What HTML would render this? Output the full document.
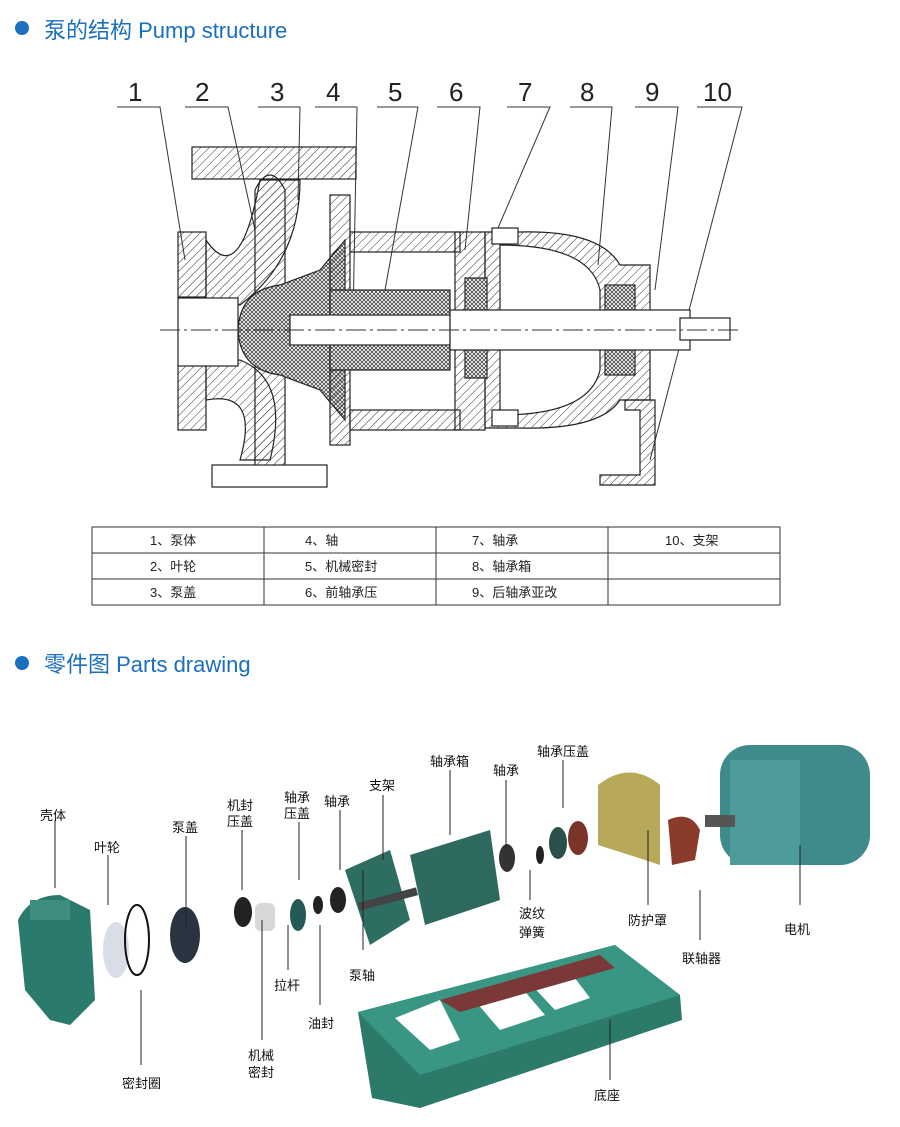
<!DOCTYPE html>
<html><head><meta charset="utf-8"><style>
html,body{margin:0;padding:0;background:#fff;}
svg{display:block}
text{font-family:"Liberation Sans","Noto Sans CJK SC",sans-serif}
.t{font-size:13px;fill:#222}
.lab{font-size:13px;fill:#111}
</style></head><body>
<svg width="900" height="1127" viewBox="0 0 900 1127" xmlns="http://www.w3.org/2000/svg">
<defs>
<pattern id="h" width="6" height="6" patternUnits="userSpaceOnUse" patternTransform="rotate(45)"><line x1="0" y1="0" x2="0" y2="6" stroke="#333" stroke-width="1"/></pattern>
<pattern id="x" width="4" height="4" patternUnits="userSpaceOnUse"><rect width="4" height="4" fill="#fff"/><path d="M0 0L4 4M4 0L0 4" stroke="#444" stroke-width="0.8"/></pattern>
</defs>
<circle cx="22" cy="28" r="7" fill="#1a6fc0"/>
<text x="44" y="38" font-size="22" fill="#1a6fc0">泵的结构 Pump structure</text>
<g font-size="26" fill="#222" font-family="DejaVu Sans" font-weight="200">
<text x="128" y="101" transform="scale(1 1)">1</text><text x="195" y="101">2</text><text x="270" y="101">3</text><text x="326" y="101">4</text><text x="388" y="101">5</text><text x="449" y="101">6</text><text x="518" y="101">7</text><text x="580" y="101">8</text><text x="645" y="101">9</text><text x="703" y="101">10</text>
</g>
<g stroke="#333" stroke-width="1" fill="none">
<path d="M117 107H160L185 260"/><path d="M185 107H228L255 230"/><path d="M258 107H300L298 200"/><path d="M315 107H357L353 320"/><path d="M377 107H418L385 290"/><path d="M437 107H480L465 250"/><path d="M507 107H550L495 235"/><path d="M570 107H612L598 265"/><path d="M635 107H678L655 290"/><path d="M697 107H742L650 460"/>
</g>
<g stroke="#222" stroke-width="1.2">
<rect x="192" y="147" width="164" height="32" fill="url(#h)"/>
<rect x="178" y="232" width="28" height="65" fill="url(#h)"/>
<rect x="178" y="365" width="28" height="65" fill="url(#h)"/>
<path d="M206 240Q240 290 260 180L300 180Q300 260 240 305L206 300Z" fill="url(#h)"/>
<path d="M206 365L240 360Q290 380 270 460L240 460Q260 390 206 400Z" fill="url(#h)"/>
<rect x="178" y="298" width="60" height="68" fill="#fff"/>
<path d="M255 190Q270 160 285 190L285 470L255 470Z" fill="url(#h)"/>
<path d="M238 330Q240 290 280 285L320 270L345 240L345 420L320 390L280 375Q240 370 238 330Z" fill="url(#x)"/>
<rect x="330" y="195" width="20" height="250" fill="url(#h)"/>
<rect x="350" y="232" width="110" height="20" fill="url(#h)"/>
<rect x="350" y="410" width="110" height="20" fill="url(#h)"/>
<rect x="455" y="232" width="30" height="198" fill="url(#h)"/>
<path d="M485 232H520Q600 230 620 265L650 265L650 400L620 400Q600 430 520 428H485Z" fill="url(#h)"/>
<path d="M500 245Q590 245 600 290L600 370Q590 415 500 415Z" fill="#fff"/>
<rect x="330" y="290" width="120" height="80" fill="url(#x)"/>
<rect x="465" y="278" width="22" height="100" fill="url(#x)"/>
<rect x="605" y="285" width="30" height="90" fill="url(#x)"/>
<rect x="290" y="315" width="160" height="30" fill="#fff"/>
<rect x="450" y="310" width="240" height="40" fill="#fff"/>
<rect x="680" y="318" width="50" height="22" fill="#fff"/>
<path d="M625 400H655L655 485H600V475H640V410H625Z" fill="url(#h)"/>
<rect x="212" y="465" width="115" height="22" fill="#fff"/>
<rect x="492" y="228" width="26" height="16" fill="#fff"/><rect x="492" y="410" width="26" height="16" fill="#fff"/>
</g>
<line x1="160" y1="330" x2="740" y2="330" stroke="#333" stroke-dasharray="20 4 3 4"/>
<g stroke="#333" stroke-width="1" fill="none">
<rect x="92" y="527" width="688" height="78"/>
<line x1="92" y1="553" x2="780" y2="553"/><line x1="92" y1="579" x2="780" y2="579"/>
<line x1="264" y1="527" x2="264" y2="605"/><line x1="436" y1="527" x2="436" y2="605"/><line x1="608" y1="527" x2="608" y2="605"/>
</g>
<g class="t">
<text x="150" y="545">1、泵体</text><text x="150" y="571">2、叶轮</text><text x="150" y="597">3、泵盖</text>
<text x="305" y="545">4、轴</text><text x="305" y="571">5、机械密封</text><text x="305" y="597">6、前轴承压</text>
<text x="472" y="545">7、轴承</text><text x="472" y="571">8、轴承箱</text><text x="472" y="597">9、后轴承亚改</text>
<text x="665" y="545">10、支架</text>
</g>
<circle cx="22" cy="663" r="7" fill="#1a6fc0"/>
<text x="44" y="672" font-size="22" fill="#1a6fc0">零件图 Parts drawing</text>
<g>
<path d="M358 1012L615 945L680 995L682 1020L420 1108L372 1098Z" fill="#2c7a6a"/>
<path d="M358 1012L615 945L680 995L420 1075Z" fill="#3a9684"/>
<path d="M395 1018L430 1050L460 1040L440 1000Z" fill="#fff"/>
<path d="M470 995L500 1030L545 1015L515 980Z" fill="#fff"/>
<path d="M525 978L555 1010L590 998L565 965Z" fill="#fff"/>
<path d="M440 1000L600 955L615 968L460 1012Z" fill="#7a3838"/>
<rect x="720" y="745" width="150" height="120" rx="30" fill="#3f8a8a"/>
<rect x="730" y="760" width="70" height="105" fill="#4d9b9b"/>
<rect x="705" y="815" width="30" height="12" fill="#555"/>
<path d="M598 785Q630 760 660 785L660 865L645 860L598 845Z" fill="#b8a85a"/>
<path d="M668 820Q690 810 700 830L695 860L672 865Z" fill="#8a3b2a"/>
<path d="M410 855L490 830L500 900L425 925Z" fill="#2f6a60"/>
<path d="M345 870L390 850L410 920L370 945Z" fill="#2e6e62"/>
<rect x="358" y="895" width="60" height="8" fill="#444" transform="rotate(-15 388 899)"/>
<ellipse cx="185" cy="935" rx="15" ry="28" fill="#2a3440"/>
<ellipse cx="116" cy="950" rx="13" ry="28" fill="#d8dde8"/>
<ellipse cx="137" cy="940" rx="12" ry="35" fill="none" stroke="#111" stroke-width="2"/>
<path d="M18 920Q30 895 60 895L90 910L95 1000L70 1025L50 1020L25 990Z" fill="#2b7a6e"/>
<rect x="30" y="900" width="40" height="20" fill="#3d8d80"/>
<ellipse cx="243" cy="912" rx="9" ry="15" fill="#222"/>
<rect x="255" y="903" width="20" height="28" rx="6" fill="#d8d8d8"/>
<ellipse cx="298" cy="915" rx="8" ry="16" fill="#245a55"/>
<ellipse cx="318" cy="905" rx="5" ry="9" fill="#222"/>
<ellipse cx="338" cy="900" rx="8" ry="13" fill="#222"/>
<ellipse cx="507" cy="858" rx="8" ry="14" fill="#333"/>
<ellipse cx="540" cy="855" rx="4" ry="9" fill="#222"/>
<ellipse cx="558" cy="843" rx="9" ry="16" fill="#2b4f4b"/>
<ellipse cx="578" cy="838" rx="10" ry="17" fill="#7a3428"/>
</g>
<g stroke="#222" stroke-width="1" fill="none">
<path d="M55 820V888"/><path d="M108 855V905"/><path d="M186 836V928"/><path d="M242 830V890"/><path d="M299 822V880"/><path d="M340 810V870"/><path d="M383 795V860"/><path d="M450 770V835"/><path d="M506 780V850"/><path d="M563 760V808"/><path d="M648 830V905"/><path d="M800 845V905"/><path d="M700 890V940"/><path d="M530 870V900"/><path d="M363 870V950"/><path d="M288 925V970"/><path d="M320 925V1005"/><path d="M262 920V1040"/><path d="M141 990V1065"/><path d="M610 1020V1080"/>
</g>
<g class="lab">
<text x="40" y="820">壳体</text><text x="94" y="852">叶轮</text><text x="172" y="832">泵盖</text>
<text x="227" y="810">机封</text><text x="227" y="826">压盖</text>
<text x="284" y="802">轴承</text><text x="284" y="818">压盖</text>
<text x="324" y="806">轴承</text><text x="369" y="790">支架</text><text x="430" y="766">轴承箱</text>
<text x="493" y="775">轴承</text><text x="537" y="756">轴承压盖</text>
<text x="628" y="925">防护罩</text><text x="784" y="934">电机</text><text x="682" y="963">联轴器</text>
<text x="519" y="918">波纹</text><text x="519" y="937">弹簧</text>
<text x="349" y="980">泵轴</text><text x="274" y="990">拉杆</text><text x="308" y="1028">油封</text>
<text x="248" y="1060">机械</text><text x="248" y="1077">密封</text>
<text x="122" y="1088">密封圈</text><text x="594" y="1100">底座</text>
</g>
</svg>
</body></html>
